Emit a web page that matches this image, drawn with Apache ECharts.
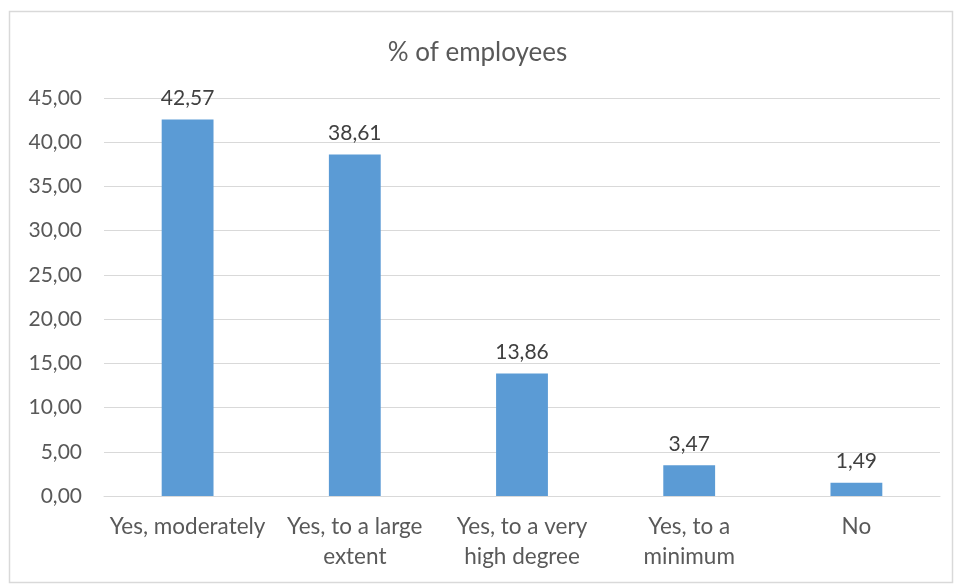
<!DOCTYPE html>
<html>
<head>
<meta charset="utf-8">
<script src="https://cdn.jsdelivr.net/npm/echarts@6/dist/echarts.min.js"></script>
<style>
  html, body { margin: 0; padding: 0; background: #fff; }
  #chart { width: 955px; height: 584px; }
</style>
</head>
<body>
<div id="chart"></div>
<script>
// Share of employees by answer
const categories = [
  'Yes, moderately',
  'Yes, to a large\nextent',
  'Yes, to a very\nhigh degree',
  'Yes, to a\nminimum',
  'No'
];
const values = [42.57, 38.61, 13.86, 3.47, 1.49];
const yTicks = { min: 0, max: 45, interval: 5 };
const titleText = '% of employees';

const fmt = v => v.toFixed(2).replace('.', ',');
const FONT = 'Lato, "Open Sans", sans-serif';

const chart = echarts.init(document.getElementById('chart'), null, { renderer: 'canvas' });
chart.setOption({
  backgroundColor: '#ffffff',
  animation: false,
  title: {
    text: titleText,
    left: 'center',
    top: 35,
    textStyle: { fontFamily: FONT, fontSize: 26, fontWeight: 'normal', color: '#595959' }
  },
  graphic: [{
    type: 'rect',
    shape: { x: 9.5, y: 11.5, width: 943, height: 571 },
    style: { fill: 'none', stroke: '#d9d9d9', lineWidth: 1.5 },
    silent: true
  }],
  grid: { left: 104, right: 15, top: 98, bottom: 88 },
  xAxis: {
    type: 'category',
    data: categories,
    axisLine: { show: true, lineStyle: { color: '#d9d9d9', width: 1 } },
    axisTick: { show: false },
    axisLabel: {
      interval: 0,
      margin: 16,
      fontFamily: FONT,
      fontSize: 22.5,
      lineHeight: 30,
      color: '#595959'
    }
  },
  yAxis: {
    type: 'value',
    min: yTicks.min,
    max: yTicks.max,
    interval: yTicks.interval,
    axisLine: { show: false },
    axisTick: { show: false },
    splitLine: { lineStyle: { color: '#d9d9d9', width: 1 } },
    axisLabel: {
      margin: 22,
      fontFamily: FONT,
      fontSize: 21,
      color: '#595959',
      formatter: v => fmt(v)
    }
  },
  series: [{
    type: 'bar',
    data: values,
    barWidth: '31%',
    itemStyle: { color: '#5b9bd5' },
    label: {
      show: true,
      position: 'top',
      distance: 11,
      fontFamily: FONT,
      fontSize: 21,
      color: '#404040',
      formatter: p => fmt(p.value)
    }
  }]
});
</script>
</body>
</html>
